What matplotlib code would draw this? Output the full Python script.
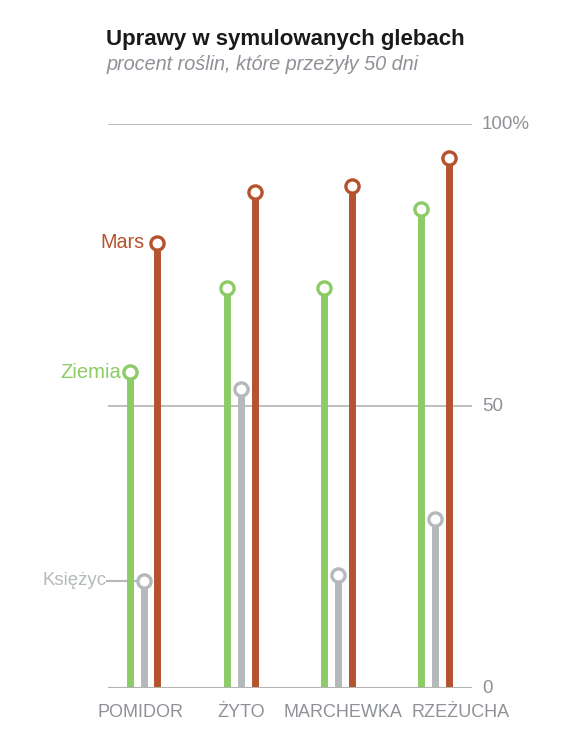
import matplotlib
matplotlib.use('Agg')
import matplotlib.pyplot as plt
import numpy as np

plt.rcParams['font.family'] = ['Liberation Sans', 'DejaVu Sans']

categories = ['POMIDOR', 'ŻYTO', 'MARCHEWKA', 'RZEŻUCHA']
series_names = ['Ziemia', 'Księżyc', 'Mars']
ziemia = [56, 71, 71, 85]
ksiezyc = [19, 53, 20, 30]
mars = [79, 88, 89, 94]

colors = {'Ziemia': '#8ccb66', 'Księżyc': '#b5b9bc', 'Mars': '#b5532e'}
offsets = {'Ziemia': -0.145, 'Księżyc': 0.0, 'Mars': 0.14}
label_shift = [-0.03, 0.0, 0.05, 0.26]  # category label nudges (x units)
grid_c = '#b3b3b3'
text_c = '#8e9196'

fig = plt.figure(figsize=(5.83, 7.39), dpi=100)
ax = fig.add_axes([0.185, 0.069, 0.625, 0.763])

x = np.arange(len(categories))
for name, vals in zip(series_names, [ziemia, ksiezyc, mars]):
    xs = x + offsets[name]
    for xi, v in zip(xs, vals):
        ax.plot([xi, xi], [0, v], color=colors[name], lw=5, solid_capstyle='butt', zorder=3)
    ax.plot(xs, vals, 'o', ms=9.5, mfc='white', mec=colors[name], mew=2.4, zorder=4, clip_on=False)

for y in [50, 100]:
    ax.axhline(y, color=grid_c, lw=1.2, zorder=1)
ax.axhline(0, color=grid_c, lw=1.5, zorder=5)

ax.set_xlim(-0.371, 3.381)
ax.set_ylim(0, 100)
for s in ax.spines.values():
    s.set_visible(False)
ax.set_xticks([])
ax.set_yticks([])

for y, lab in [(0, '0'), (50, '50'), (100, '100%')]:
    ax.text(3.48, y, lab, ha='left', va='center', color=text_c, fontsize=13.5)

for xi, sh, lab in zip(x, label_shift, categories):
    ax.text(xi + sh, -4.3, lab, ha='center', va='center', color=text_c, fontsize=13)

# series labels on first group
ax.text(offsets['Mars'] - 0.13, mars[0], 'Mars', ha='right', va='center',
        color=colors['Mars'], fontsize=14.2)
ax.text(offsets['Ziemia'] - 0.09, ziemia[0], 'Ziemia', ha='right', va='center',
        color=colors['Ziemia'], fontsize=14.6)
ax.plot([-0.38, -0.06], [ksiezyc[0], ksiezyc[0]], color=colors['Księżyc'], lw=1.5,
        zorder=2, clip_on=False)
ax.text(-0.39, ksiezyc[0], 'Księżyc', ha='right', va='center',
        color=colors['Księżyc'], fontsize=13.4)

fig.text(0.182, 0.946, 'Uprawy w symulowanych glebach', fontsize=16, fontweight='bold',
         color='#1a1a1a', ha='left', va='center')
fig.text(0.182, 0.913, 'procent roślin, które przeżyły 50 dni', fontsize=14.3,
         style='italic', color=text_c, ha='left', va='center')

fig.savefig('out.png', dpi=100, facecolor='white')
